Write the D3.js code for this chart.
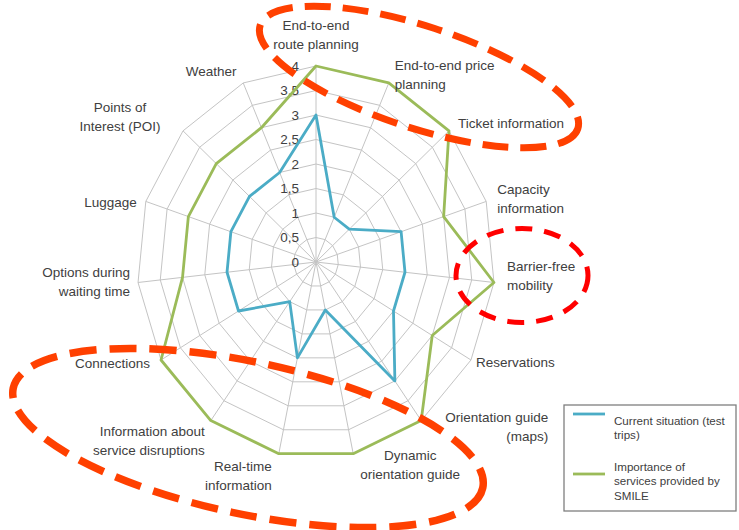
<!DOCTYPE html>
<html>
<head>
<meta charset="utf-8">
<script src="https://cdn.jsdelivr.net/npm/d3@7/dist/d3.min.js"></script>
<style>
  html, body { margin: 0; padding: 0; background: #fff; }
  svg { display: block; font-family: "Liberation Sans", Arial, sans-serif; }
</style>
</head>
<body>
<svg id="chart" width="739" height="530"></svg>
<script>
// ---------- DATA ----------
const categories = [
  "End-to-end\nroute planning",
  "End-to-end price\nplanning",
  "Ticket information",
  "Capacity\ninformation",
  "Barrier-free\nmobility",
  "Reservations",
  "Orientation guide\n(maps)",
  "Dynamic\norientation guide",
  "Real-time\ninformation",
  "Information about\nservice disruptions",
  "Connections",
  "Options during\nwaiting time",
  "Luggage",
  "Points of\nInterest (POI)",
  "Weather"
];
const currentSituation = [3, 1, 1, 2, 2, 2, 3, 1, 2, 1, 2, 2, 2, 2, 2];
const importance       = [4, 4, 4, 3, 4, 3, 4, 4, 4, 4, 4, 3, 3, 3, 3];
const tickValues = [0, 0.5, 1, 1.5, 2, 2.5, 3, 3.5, 4];
const tickLabels = ["0", "0,5", "1", "1,5", "2", "2,5", "3", "3,5", "4"];
const seriesNames = ["Current situation (test\ntrips)", "Importance of\nservices provided by\nSMILE"];

// ---------- LAYOUT ----------
const cx = 316, cy = 262, kx = 0.913;
const seriesColors = ["#4bacc6", "#9bbb59"];
const textColor = "#404040";
// label placement: [anchor, dx, dy] relative to the outer vertex of each axis
const labelLayout = [
  ["middle", 0, -31.5], ["start", 6, -7.5], ["start", 9, -7], ["start", 11, -2],
  ["start", 13, -6.5], ["start", 5, 2], ["end", 127, 6.5], ["middle", 57, 11],
  ["end", -7, 22], ["end", -6, 20.5], ["end", -11, 3], ["end", -8, -0.5],
  ["end", -9, 1.5], ["middle", -63, -13.5], ["middle", -32, -11]
];

const svg = d3.select("#chart");
const n = categories.length;
const angle = d3.scaleLinear().domain([0, n]).range([0, 2 * Math.PI]);
const r = d3.scaleLinear().domain([0, 4]).range([0, 196]);
const pt = (i, v) => [cx + r(v) * Math.sin(angle(i)) * kx, cy - r(v) * Math.cos(angle(i))];
const closed = d3.line().curve(d3.curveLinearClosed);

const grid = svg.append("g");
// rings
tickValues.filter(v => v > 0).forEach(v => {
  grid.append("path")
    .attr("d", closed(d3.range(n).map(i => pt(i, v))))
    .attr("fill", "none").attr("stroke", "#c4c4c4").attr("stroke-width", 1);
});
// spokes
d3.range(n).forEach(i => {
  const p = pt(i, 4);
  grid.append("line").attr("x1", cx).attr("y1", cy).attr("x2", p[0]).attr("y2", p[1])
    .attr("stroke", "#c4c4c4").attr("stroke-width", 1);
});

// tick labels
svg.append("g").selectAll("text").data(tickValues).join("text")
  .attr("x", cx - 17).attr("y", d => cy - r(d))
  .attr("text-anchor", "end").attr("dominant-baseline", "central")
  .attr("font-size", "13.5px").attr("fill", textColor)
  .text((d, i) => tickLabels[i]);

// series
[currentSituation, importance].forEach((vals, s) => {
  svg.append("path")
    .attr("d", closed(vals.map((v, i) => pt(i, v))))
    .attr("fill", "none").attr("stroke", seriesColors[s])
    .attr("stroke-width", 2.8).attr("stroke-linejoin", "round");
});

// category labels
const lh = 19;
categories.forEach((c, i) => {
  const p = pt(i, 4);
  const [anchor, dx, dy] = labelLayout[i];
  const lines = c.split("\n");
  const y0 = p[1] + dy - (lines.length - 1) * lh / 2;
  const t = svg.append("text")
    .attr("text-anchor", anchor).attr("font-size", "13.5px").attr("fill", textColor);
  lines.forEach((ln, k) => {
    t.append("tspan").attr("x", p[0] + dx).attr("y", y0 + k * lh)
      .attr("dominant-baseline", "central").text(ln);
  });
});

// legend
const lg = svg.append("g");
lg.append("rect").attr("x", 564).attr("y", 405).attr("width", 172).attr("height", 106)
  .attr("fill", "#fff").attr("stroke", "#7f7f7f").attr("stroke-width", 1.3);
const legendPos = [{ ly: 414, ty: 420 }, { ly: 474, ty: 466 }];
seriesNames.forEach((name, s) => {
  lg.append("line").attr("x1", 573).attr("x2", 605)
    .attr("y1", legendPos[s].ly).attr("y2", legendPos[s].ly)
    .attr("stroke", seriesColors[s]).attr("stroke-width", 2.8);
  const t = lg.append("text").attr("font-size", "11.6px").attr("fill", textColor);
  name.split("\n").forEach((ln, k) => {
    t.append("tspan").attr("x", 614).attr("y", legendPos[s].ty + k * 14.8)
      .attr("dominant-baseline", "central").text(ln);
  });
});

// annotation ellipses
const ann = svg.append("g").attr("fill", "none");
ann.append("ellipse").attr("cx", 419).attr("cy", 77).attr("rx", 167).attr("ry", 51)
  .attr("transform", "rotate(18 419 77)")
  .attr("stroke", "#ff4000").attr("stroke-width", 7).attr("stroke-dasharray", "26 12");
ann.append("ellipse").attr("cx", 522).attr("cy", 275.5).attr("rx", 66).attr("ry", 47)
  .attr("stroke", "#ff0000").attr("stroke-width", 5).attr("stroke-dasharray", "17 12");
ann.append("ellipse").attr("cx", 248).attr("cy", 438).attr("rx", 240).attr("ry", 76)
  .attr("transform", "rotate(12 248 438)")
  .attr("stroke", "#ff4000").attr("stroke-width", 7.5).attr("stroke-dasharray", "27 13");
</script>
</body>
</html>
